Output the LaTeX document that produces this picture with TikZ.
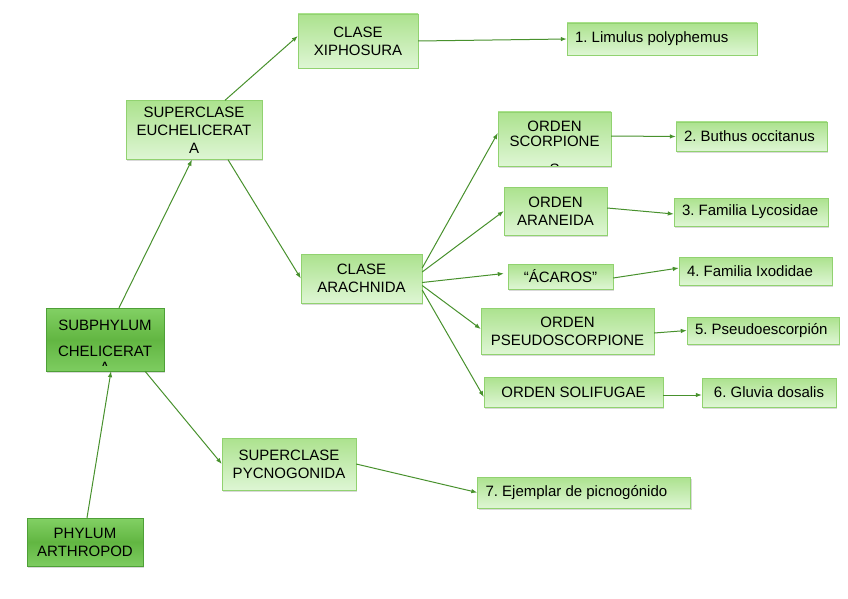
\documentclass[tikz,border=0pt]{standalone}
\usepackage{fontspec}
\setmainfont{Liberation Sans}
\usetikzlibrary{arrows.meta,shadows}
\definecolor{BoxTop}{RGB}{172,226,142}
\definecolor{BoxBottom}{RGB}{222,246,212}
\definecolor{BoxLine}{RGB}{145,210,112}
\definecolor{DarkTop}{RGB}{130,208,100}
\definecolor{DarkMid}{RGB}{98,182,66}
\definecolor{DarkBottom}{RGB}{125,204,96}
\definecolor{DarkLine}{RGB}{78,160,55}
\definecolor{EdgeGreen}{RGB}{72,145,45}
\newcommand{\BoxFont}{\fontsize{15}{18}\selectfont\frenchspacing}
\tikzset{
  BoxStyle/.style = { rectangle, draw = BoxLine, top color = BoxTop,
                      bottom color = BoxBottom, align = center, inner sep = 0pt,
                      drop shadow = {shadow xshift = 1pt, shadow yshift = -1.5pt, opacity = 0.3},
                      font = \BoxFont },
  DarkBoxStyle/.style = { BoxStyle, draw = DarkLine, top color = DarkTop,
                          bottom color = DarkBottom, middle color = DarkMid },
  SpeciesStyle/.style = { BoxStyle, align = flush left, inner xsep = 8pt },
  CutText/.style n args = {3}{ path picture = {
      \clip (path picture bounding box.north west) rectangle ([yshift=#2]path picture bounding box.south east);
      \node[anchor = north, inner sep = 0pt, align = center, font = \BoxFont]
        at ([yshift=-#1]path picture bounding box.north) {#3}; } },
  EdgeStyle/.style = { -{Latex[length=6pt,width=4.5pt]}, draw = EdgeGreen, line width = 1pt } }

\begin{document}
\begin{tikzpicture}[x=1pt,y=-1pt]
  \useasboundingbox (0,0) rectangle (848,599);

  \node[DarkBoxStyle, minimum width = 116, minimum height = 48] (Phy) at (85,542) {PHYLUM\\ARTHROPOD};
  \node[DarkBoxStyle, minimum width = 118, minimum height = 63,
        CutText = {7pt}{6pt}{SUBPHYLUM\\[8pt]CHELICERAT\\[-2pt]A}] (Sub) at (105,339.5) {};

  \node[BoxStyle, minimum width = 136, minimum height = 59] (Euch) at (194,130) {SUPERCLASE\\EUCHELICERAT\\A};
  \node[BoxStyle, minimum width = 134, minimum height = 52] (Pycno) at (289,464) {SUPERCLASE\\PYCNOGONIDA};

  \node[BoxStyle, minimum width = 120, minimum height = 54] (Xiph) at (358,41) {CLASE\\XIPHOSURA};
  \node[BoxStyle, minimum width = 121, minimum height = 49] (Arach) at (361.5,278.5) {CLASE\\ARACHNIDA};

  \node[BoxStyle, minimum width = 113, minimum height = 54,
        CutText = {9pt}{0.5pt}{ORDEN\\[-3pt]SCORPIONE\\[10pt]S}] (Scorp) at (554.5,139) {};
  \node[BoxStyle, minimum width = 103, minimum height = 48] (Aran) at (555.5,211) {ORDEN\\ARANEIDA};
  \node[BoxStyle, minimum width = 105, minimum height = 25] (Acar) at (560.5,276.5) {“ÁCAROS”};
  \node[BoxStyle, minimum width = 173, minimum height = 46] (Pseudo) at (567.5,331) {ORDEN\\PSEUDOSCORPIONE};
  \node[BoxStyle, minimum width = 179, minimum height = 30] (Solif) at (573.5,392) {ORDEN SOLIFUGAE};

  \node[SpeciesStyle, text width = 174, minimum height = 32] (Limu) at (662,39) {1. Limulus polyphemus};
  \node[SpeciesStyle, text width = 135, minimum height = 29] (Buth) at (751.5,136.5) {2. Buthus occitanus};
  \node[SpeciesStyle, text width = 138, minimum height = 28] (Lyco) at (751,212) {3. Familia Lycosidae};
  \node[SpeciesStyle, text width = 137, minimum height = 28] (Ixod) at (755.5,271) {4. Familia Ixodidae};
  \node[SpeciesStyle, text width = 136, minimum height = 27] (Psesc) at (763,330.5) {5. Pseudoescorpión};
  \node[BoxStyle, minimum width = 134, minimum height = 29] (Gluv) at (769,392.5) {6. Gluvia dosalis};
  \node[SpeciesStyle, text width = 197, minimum height = 31] (Ejem) at (584,492.5) {7. Ejemplar de picnogónido};

  \draw[EdgeStyle] ([xshift=2pt]Phy.north) -- ([xshift=6pt]Sub.south);
  \draw[EdgeStyle] ([xshift=14pt]Sub.north) -- ([xshift=-2pt]Euch.south);
  \draw[EdgeStyle] ([xshift=40pt]Sub.south) -- (Pycno.west);
  \draw[EdgeStyle] ([xshift=31pt]Euch.north) -- ([yshift=5pt]Xiph.west);
  \draw[EdgeStyle] ([xshift=34pt]Euch.south) -- (Arach.west);
  \draw[EdgeStyle] (Xiph.east) -- (Limu.west);
  \draw[EdgeStyle] (Pycno.east) -- (Ejem.west);

  \draw[EdgeStyle] ([yshift=10.5pt]Arach.east) -- ([yshift=6pt]Scorp.west);
  \draw[EdgeStyle] ([yshift=6.5pt]Arach.east) -- (Aran.west);
  \draw[EdgeStyle] ([yshift=-4pt]Arach.east) -- ([xshift=-4pt,yshift=3pt]Acar.west);
  \draw[EdgeStyle] ([yshift=-7pt]Arach.east) -- ([yshift=2pt]Pseudo.west);
  \draw[EdgeStyle] ([yshift=-11.5pt]Arach.east) -- ([yshift=-5pt]Solif.west);

  \draw[EdgeStyle] ([yshift=3pt]Scorp.east) -- (Buth.west);
  \draw[EdgeStyle] ([yshift=3pt]Aran.east) -- ([yshift=-2pt]Lyco.west);
  \draw[EdgeStyle] ([yshift=-1.5pt]Acar.east) -- ([yshift=3pt]Ixod.west);
  \draw[EdgeStyle] ([yshift=-2pt]Pseudo.east) -- (Psesc.west);
  \draw[EdgeStyle] ([yshift=-3pt]Solif.east) -- ([yshift=-2.5pt]Gluv.west);
\end{tikzpicture}
\end{document}
